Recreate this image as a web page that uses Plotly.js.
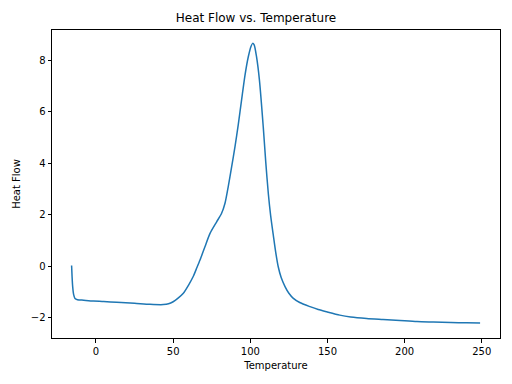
<!DOCTYPE html>
<html><head><meta charset="utf-8">
<script src="https://cdn.plot.ly/plotly-3.0.1.min.js"></script>
<style>body{margin:0;background:#fff}#c{width:512px;height:384px}</style>
</head><body><div id="c"></div>
<script>
const temperature = [-15.8,-15.5,-15.1,-14.5,-13.6,-12,-8,-1.7,5,13.4,25,35,43.6,47,50,53,56.6,60,63,65,67.4,70.6,73.9,78.2,81.4,83.6,85.7,87.9,90.1,92.2,94.4,96.5,98.7,100.5,101.5,102.5,104,105.9,108.4,110,111.7,113.2,114.9,116.5,118.1,120,122.5,125,127.9,132,138.7,144,149.5,158,165,175.4,186,197,208,218.6,230,240,248.9];
const heatFlow = [0.02,-0.4,-0.8,-1.1,-1.26,-1.31,-1.33,-1.36,-1.38,-1.41,-1.45,-1.49,-1.5,-1.47,-1.39,-1.26,-1.06,-0.74,-0.41,-0.12,0.23,0.75,1.27,1.72,2.05,2.44,3.09,3.86,4.65,5.5,6.48,7.4,8.14,8.55,8.66,8.6,8.15,7.24,5.4,4.05,2.8,1.95,1.2,0.52,-0.03,-0.45,-0.8,-1.06,-1.26,-1.42,-1.58,-1.69,-1.78,-1.91,-1.98,-2.04,-2.08,-2.12,-2.16,-2.18,-2.2,-2.21,-2.22];

const axisCommon = {
  showgrid:false, zeroline:false, showline:true, mirror:true,
  linecolor:'#000', linewidth:1, ticks:'outside', ticklen:3.5, tickwidth:1, tickcolor:'#000',
  tickfont:{family:'DejaVu Sans', size:10, color:'#000'}
};
Plotly.newPlot('c', [{
  x: temperature, y: heatFlow, type:'scatter', mode:'lines',
  line:{color:'#1f77b4', width:1.5, shape:'spline', smoothing:0.7}
}], {
  width:512, height:384,
  margin:{l:52, r:12, t:30, b:46},
  paper_bgcolor:'#fff', plot_bgcolor:'#fff',
  showlegend:false,
  title:{text:'Heat Flow vs. Temperature', font:{family:'DejaVu Sans', size:12, color:'#000'}, x:0.5, xanchor:'center', y:0.953, yanchor:'middle'},
  xaxis: Object.assign({}, axisCommon, {range:[-28.5,261.8], tickvals:[0,50,100,150,200,250],
    title:{text:'Temperature', font:{family:'DejaVu Sans', size:10, color:'#000'}, standoff:6}}),
  yaxis: Object.assign({}, axisCommon, {range:[-2.8,9.18], tickvals:[-2,0,2,4,6,8],
    title:{text:'Heat Flow', font:{family:'DejaVu Sans', size:10, color:'#000'}, standoff:8}})
}, {staticPlot:true});
</script></body></html>
